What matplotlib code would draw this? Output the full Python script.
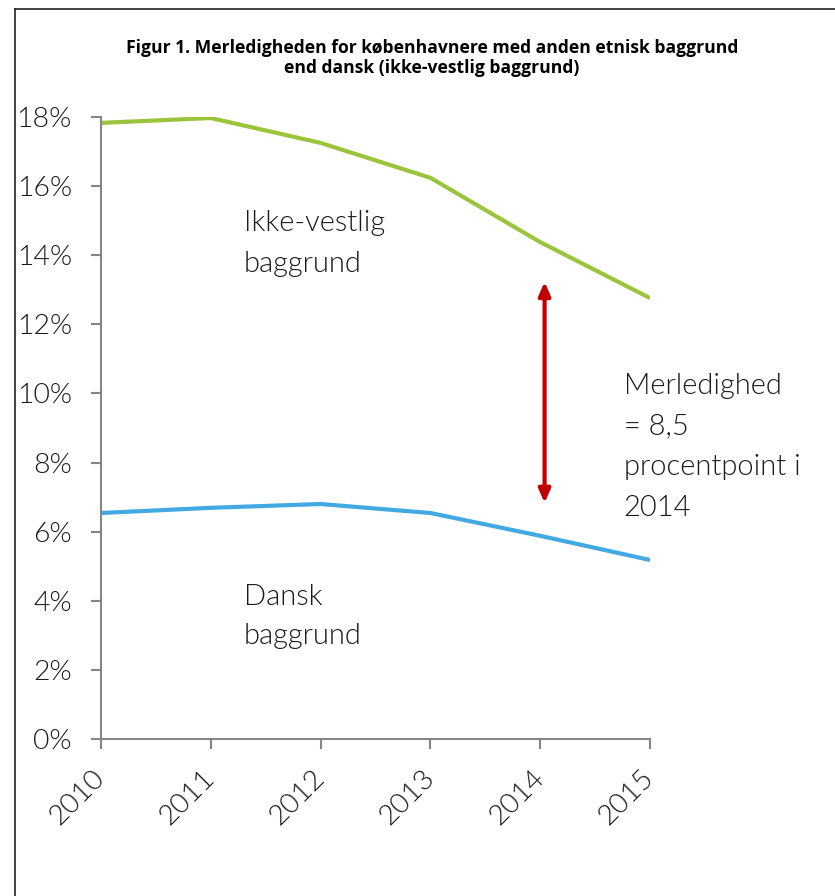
import matplotlib
matplotlib.use("Agg")
import matplotlib.pyplot as plt
from matplotlib.lines import Line2D

years = [2010, 2011, 2012, 2013, 2014, 2015]
ikke_vestlig = [17.83, 17.97, 17.25, 16.24, 14.38, 12.76]
dansk = [6.54, 6.69, 6.80, 6.54, 5.88, 5.18]
yticks = [0, 2, 4, 6, 8, 10, 12, 14, 16, 18]

title = ("Figur 1. Merledigheden for københavnere med anden etnisk baggrund\n"
         "end dansk (ikke-vestlig baggrund)")

FONT = "Lato"
WEIGHT = 300
GRAY = "#868686"
INK = "#1a1a1a"

fig = plt.figure(figsize=(8.35, 8.96), dpi=100)
ax = fig.add_axes([101 / 835, 1 - 739 / 896, (650 - 101) / 835, (739 - 117) / 896])

ax.plot(years, ikke_vestlig, color="#9ac43c", lw=3, solid_capstyle="butt")
ax.plot(years, dansk, color="#43a9e3", lw=3, solid_capstyle="butt")

ax.set_xlim(2010, 2015)
ax.set_ylim(0, 18)
ax.set_yticks(yticks)
ax.set_yticklabels([f"{v}%" for v in yticks], fontsize=20.5, family=FONT, fontweight=WEIGHT)
ax.set_xticks(years)
ax.set_xticklabels([str(y) for y in years], fontsize=20.5, family=FONT, fontweight=WEIGHT,
                   rotation=45, ha="right", va="center", rotation_mode="anchor")

for s in ["top", "right"]:
    ax.spines[s].set_visible(False)
for s in ["left", "bottom"]:
    ax.spines[s].set_color(GRAY)
    ax.spines[s].set_linewidth(1.5)
ax.tick_params(axis="both", direction="out", length=7, width=1.5, color=GRAY, labelcolor=INK)
ax.tick_params(axis="y", pad=14)
ax.tick_params(axis="x", pad=18)

# double arrow showing the 2014 gap
ax.annotate("", xy=(2014.04, 13.23), xytext=(2014.04, 6.83),
            arrowprops=dict(arrowstyle="<|-|>,head_length=0.8,head_width=0.35",
                            color="#c00000", lw=3, shrinkA=0, shrinkB=0))

txt = dict(fontsize=21, family=FONT, fontweight=WEIGHT, color=INK)
ax.text(2011.30, 14.33, "Ikke-vestlig\nbaggrund", ha="left", va="center", linespacing=1.7, **txt)
ax.text(2011.30, 3.55, "Dansk\nbaggrund", ha="left", va="center", linespacing=1.6, **txt)
ax.text(2014.76, 8.45, "Merledighed\n= 8,5\nprocentpoint i\n2014", ha="left", va="center",
        linespacing=1.7, clip_on=False, **txt)

fig.text(432 / 835, 1 - 58 / 896, title, ha="center", va="center", fontsize=12.6,
         family="Open Sans", fontweight="bold", linespacing=1.2)

# frame lines of the original box (left and top only visible)
fig.add_artist(Line2D([15 / 835, 15 / 835], [0, 1 - 9 / 896], transform=fig.transFigure,
                      color="#222222", lw=1.2))
fig.add_artist(Line2D([15 / 835, 1], [1 - 9 / 896, 1 - 9 / 896], transform=fig.transFigure,
                      color="#222222", lw=1.2))

fig.savefig("out.png", dpi=100)
